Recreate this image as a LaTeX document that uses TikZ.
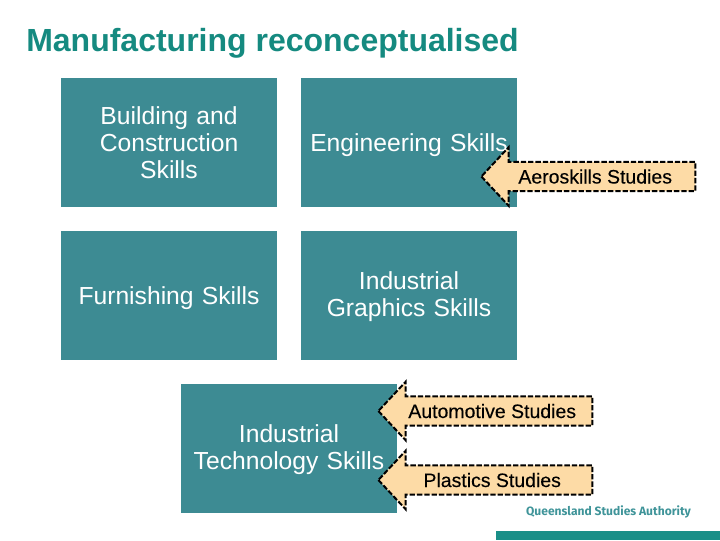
\documentclass[tikz,border=0pt]{standalone}
\usepackage{fontspec}
\setmainfont{Liberation Sans}
\newfontfamily\logofont{Fira Sans}
\newfontfamily\studyfont[FakeBold=0.15]{Liberation Sans}
\usetikzlibrary{shapes.arrows}
\usetikzlibrary{positioning}
\usetikzlibrary{calc}
\definecolor{qsateal}{HTML}{3D8B93}
\definecolor{qsatitle}{HTML}{158A80}
\definecolor{qsalogo}{HTML}{3F9499}
\definecolor{qsabar}{HTML}{1A8F88}
\definecolor{qsapeach}{HTML}{FDDBA6}
\begin{document}
\begin{tikzpicture}[x=0.75pt,y=-0.75pt,
            node distance = 18pt,
            skillbox/.style = {fill=qsateal,text=white,minimum width=162pt,
                minimum height=96.75pt,inner sep=0pt,outer sep=0pt,text width=156pt,
                align=center,font=\fontsize{18.5}{20.25}\selectfont},
            oneline/.style = {skillbox,execute at begin node=\rule{0pt}{17.1pt}},
            twoline/.style = {skillbox,execute at begin node=\rule{0pt}{15.6pt}},
            studyarrow/.style = {single arrow,shape border rotate=180,draw=black,
                fill=qsapeach,line width=1.5pt,dash pattern=on 4pt off 1.5pt,
                minimum height=160.5pt,minimum width=43pt,single arrow head extend=11pt,
                single arrow tip angle=94,single arrow head indent=0pt,
                inner xsep=0pt,inner ysep=0pt,text height=15.5pt,text depth=5pt,anchor=tip,
                font=\studyfont\fontsize{14.6}{16}\selectfont}]
            \useasboundingbox (0,0) rectangle (720,540);
            \node[anchor=west,text=qsatitle,inner sep=0pt,
                font=\fontsize{24}{28}\selectfont\bfseries] (title) at (26,43)
                {Manufacturing reconceptualised};
            \node[skillbox] (building) at (169,142.5) {Building and \\ Construction \\ Skills};
            \node[oneline,right=of building] (engineering) {Engineering Skills};
            \node[oneline,below=of building] (furnishing) {Furnishing Skills};
            \node[twoline,right=of furnishing] (graphics) {Industrial \\ Graphics Skills};
            \node[twoline,below=of {$(furnishing.south)!.5!(graphics.south)$}] (technology)
                {Industrial \\ Technology Skills};
            \node[studyarrow] (aero) at (480,176.5) {Aeroskills Studies};
            \node[studyarrow] (auto) at (377,411) {Automotive Studies};
            \node[studyarrow] (plastics) at (377,480) {Plastics Studies};
            \node[fill=qsabar,inner sep=0pt,minimum width=168pt,minimum height=6.75pt,
                anchor=south east] (footbar) at (720,540) {};
            \node[text=qsalogo,inner sep=0pt,font=\logofont\fontsize{9.05}{11}\selectfont\bfseries]
                (logo) at (608.5,512) {Queensland Studies Authority};
        \end{tikzpicture}
\end{document}
